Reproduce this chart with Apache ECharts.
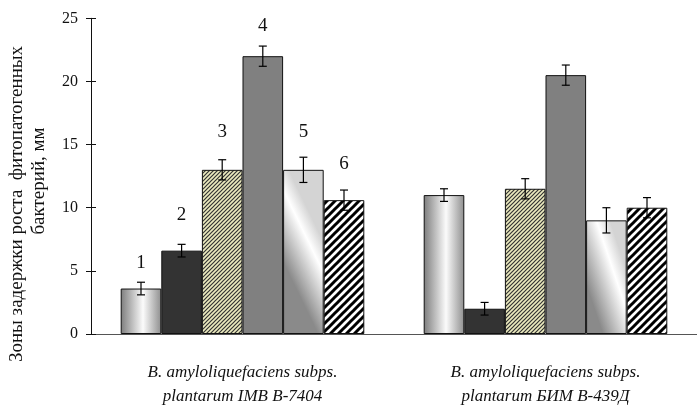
<!DOCTYPE html>
<html><head><meta charset="utf-8">
<script src="https://cdn.jsdelivr.net/npm/echarts@6/dist/echarts.min.js"></script>
<style>html,body{margin:0;padding:0;background:#fff}#c{width:697px;height:409px}</style>
</head><body><div id="c"></div>
<script>
// ---- data ----
var categories = ['B. amyloliquefaciens subps.\nplantarum IMB B-7404', 'B. amyloliquefaciens subps.\nplantarum БИМ В-439Д'];
var s1 = [3.6, 11];
var s2 = [6.6, 2];
var s3 = [13, 11.5];
var s4 = [22, 20.5];
var s5 = [13, 9];
var s6 = [10.6, 10];
var e1 = [0.5, 0.5];
var e2 = [0.5, 0.5];
var e3 = [0.8, 0.8];
var e4 = [0.8, 0.8];
var e5 = [1.0, 1.0];
var e6 = [0.8, 0.8];
var barLabels = ['1', '2', '3', '4', '5', '6'];
var labelY = [5.6, 9.4, 16.0, 24.4, 16.0, 13.5];
var yTitle1 = 'Зоны задержки роста  фитопатогенных';
var yTitle2 = 'бактерий, мм';

// ---- styles ----
var BW = 40.6;
var FONT = 'Liberation Serif';
function stripe(size, bg, fg, lw) {
  var c = document.createElement('canvas');
  c.width = size; c.height = size;
  var g = c.getContext('2d');
  g.fillStyle = bg; g.fillRect(0, 0, size, size);
  g.strokeStyle = fg; g.lineWidth = lw;
  g.beginPath();
  g.moveTo(-size, size * 2); g.lineTo(size * 2, -size);
  g.moveTo(-size, size); g.lineTo(size, -size);
  g.moveTo(0, size * 2); g.lineTo(size * 2, 0);
  g.stroke();
  return c;
}
var col1 = new echarts.graphic.LinearGradient(0, 0, 1, 0, [
  {offset: 0, color: '#7c7c7c'}, {offset: 0.55, color: '#fbfbfb'}, {offset: 1, color: '#8e8e8e'}]);
var col3 = {image: stripe(4, '#ecebbf', '#333333', 1.2), repeat: 'repeat'};
var col5 = new echarts.graphic.LinearGradient(0, 0.56, 1, 0.44, [
  {offset: 0, color: '#8a8a8a'}, {offset: 0.7, color: '#ffffff'}, {offset: 1, color: '#d4d4d4'}]);
var col6 = {image: stripe(8, '#ffffff', '#000000', 3), repeat: 'repeat'};
var colors = [col1, '#333333', col3, '#808080', col5, col6];
var vals = [s1, s2, s3, s4, s5, s6];
var errs = [e1, e2, e3, e4, e5, e6];

var series = [];
vals.forEach(function (v, i) {
  series.push({
    type: 'bar', data: v, barWidth: BW, barGap: 0, xAxisIndex: 0, yAxisIndex: 0,
    itemStyle: {color: colors[i], borderColor: '#111', borderWidth: 1},
    z: 2
  });
});
// error bars
vals.forEach(function (v, i) {
  var d = v.map(function (y, k) { return [k, y - errs[i][k], y + errs[i][k]]; });
  series.push({
    type: 'custom', xAxisIndex: 0, yAxisIndex: 0, z: 5, data: d,
    renderItem: function (params, api) {
      var lo = api.coord([api.value(0), api.value(1)]);
      var hi = api.coord([api.value(0), api.value(2)]);
      var x = lo[0] + (i - 2.5) * BW;
      var cw = 4;
      var st = {stroke: '#000', lineWidth: 1.2};
      return {type: 'group', children: [
        {type: 'line', shape: {x1: x, y1: lo[1], x2: x, y2: hi[1]}, style: st},
        {type: 'line', shape: {x1: x - cw, y1: lo[1], x2: x + cw, y2: lo[1]}, style: st},
        {type: 'line', shape: {x1: x - cw, y1: hi[1], x2: x + cw, y2: hi[1]}, style: st}
      ]};
    }
  });
});
// number labels above group 1
series.push({
  type: 'custom', xAxisIndex: 0, yAxisIndex: 0, z: 6,
  data: barLabels.map(function (t, i) { return [0, labelY[i], i]; }),
  renderItem: function (params, api) {
    var p = api.coord([api.value(0), api.value(1)]);
    var i = api.value(2);
    return {type: 'text', x: p[0] + (i - 2.5) * BW, y: p[1],
      style: {text: barLabels[i], font: '19px "' + FONT + '"', fill: '#111', textAlign: 'center', textVerticalAlign: 'middle'}};
  }
});

var chart = echarts.init(document.getElementById('c'), null, {renderer: 'canvas'});
chart.setOption({
  animation: false,
  backgroundColor: '#fff',
  grid: {left: 91, top: 18.3, width: 607, height: 316.4},
  xAxis: [{
    type: 'category', data: categories, position: 'bottom',
    axisLine: {lineStyle: {color: '#555', width: 1.2}},
    axisTick: {length: 7, inside: false, lineStyle: {color: '#333'}},
    axisLabel: {fontFamily: FONT, fontStyle: 'italic', fontSize: 17, color: '#111', lineHeight: 24, margin: 27}
  }, {
    type: 'category', data: categories, position: 'bottom',
    axisLine: {show: false},
    axisTick: {length: 7, inside: true, lineStyle: {color: '#333'}},
    axisLabel: {show: false}
  }],
  yAxis: [{
    type: 'value', min: 0, max: 25, interval: 5, position: 'left',
    axisLine: {show: true, lineStyle: {color: '#111', width: 1}},
    axisTick: {show: true, length: 5, lineStyle: {color: '#111'}},
    splitLine: {show: false},
    axisLabel: {fontFamily: FONT, fontSize: 16, color: '#111', margin: 13}
  }, {
    type: 'value', min: 0, max: 25, interval: 5, position: 'left',
    axisLine: {show: false},
    axisTick: {show: true, inside: true, length: 5, lineStyle: {color: '#111'}},
    splitLine: {show: false},
    axisLabel: {show: false}
  }],
  graphic: [
    {type: 'text', x: 17, y: 204, rotation: Math.PI / 2,
      style: {text: yTitle1, font: '19px "' + FONT + '"', fill: '#111', textAlign: 'center', textVerticalAlign: 'middle'}},
    {type: 'text', x: 39, y: 181, rotation: Math.PI / 2,
      style: {text: yTitle2, font: '19px "' + FONT + '"', fill: '#111', textAlign: 'center', textVerticalAlign: 'middle'}}
  ],
  series: series
});
</script></body></html>
